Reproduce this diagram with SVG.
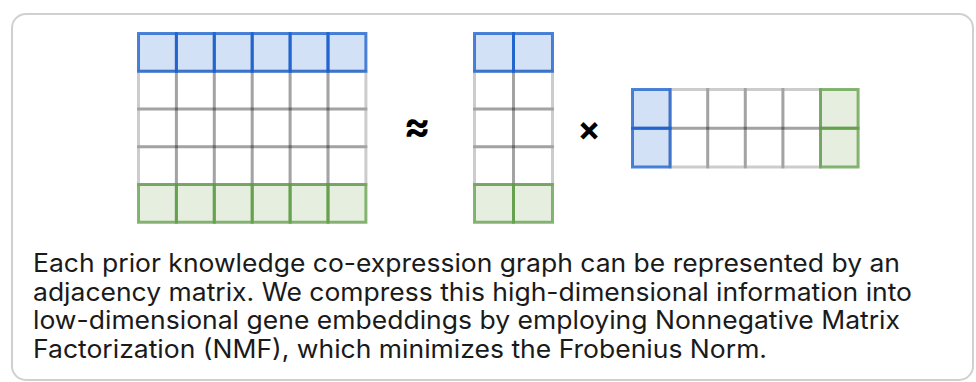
<svg xmlns="http://www.w3.org/2000/svg" width="976" height="382" viewBox="0 0 976 382">
<style>
.frame{fill:#fff;stroke:#d0d0d0;stroke-width:2}
.fb{fill:#d3e1f6}
.fg{fill:#e6eedf}
.cx{fill:none;stroke:#000;stroke-opacity:0.2;stroke-width:3}
.cb{fill:none;stroke:#1a5fcc;stroke-opacity:0.78;stroke-width:3}
.cg{fill:none;stroke:#5e9c45;stroke-opacity:0.75;stroke-width:3}
.op{font-family:Inter,"Noto Sans",sans-serif;font-weight:700;fill:#000;text-anchor:middle}
.cap{font-family:Inter,"Noto Sans",sans-serif;font-size:25px;fill:#1a1a1a}
</style>
<rect class="frame" x="12" y="14" width="961" height="366" rx="14"/>

<g id="matrix-A">
  <rect class="fb" x="138.5" y="33.5" width="227.4" height="37.75"/>
  <rect class="fg" x="138.5" y="184.5" width="227.4" height="37.75"/>
  <rect class="cx" x="138.5" y="71.25" width="37.9" height="37.75"/><rect class="cx" x="176.4" y="71.25" width="37.9" height="37.75"/><rect class="cx" x="214.3" y="71.25" width="37.9" height="37.75"/><rect class="cx" x="252.2" y="71.25" width="37.9" height="37.75"/><rect class="cx" x="290.1" y="71.25" width="37.9" height="37.75"/><rect class="cx" x="328" y="71.25" width="37.9" height="37.75"/>
  <rect class="cx" x="138.5" y="109" width="37.9" height="37.75"/><rect class="cx" x="176.4" y="109" width="37.9" height="37.75"/><rect class="cx" x="214.3" y="109" width="37.9" height="37.75"/><rect class="cx" x="252.2" y="109" width="37.9" height="37.75"/><rect class="cx" x="290.1" y="109" width="37.9" height="37.75"/><rect class="cx" x="328" y="109" width="37.9" height="37.75"/>
  <rect class="cx" x="138.5" y="146.75" width="37.9" height="37.75"/><rect class="cx" x="176.4" y="146.75" width="37.9" height="37.75"/><rect class="cx" x="214.3" y="146.75" width="37.9" height="37.75"/><rect class="cx" x="252.2" y="146.75" width="37.9" height="37.75"/><rect class="cx" x="290.1" y="146.75" width="37.9" height="37.75"/><rect class="cx" x="328" y="146.75" width="37.9" height="37.75"/>
  <rect class="cb" x="138.5" y="33.5" width="37.9" height="37.75"/><rect class="cb" x="176.4" y="33.5" width="37.9" height="37.75"/><rect class="cb" x="214.3" y="33.5" width="37.9" height="37.75"/><rect class="cb" x="252.2" y="33.5" width="37.9" height="37.75"/><rect class="cb" x="290.1" y="33.5" width="37.9" height="37.75"/><rect class="cb" x="328" y="33.5" width="37.9" height="37.75"/>
  <rect class="cg" x="138.5" y="184.5" width="37.9" height="37.75"/><rect class="cg" x="176.4" y="184.5" width="37.9" height="37.75"/><rect class="cg" x="214.3" y="184.5" width="37.9" height="37.75"/><rect class="cg" x="252.2" y="184.5" width="37.9" height="37.75"/><rect class="cg" x="290.1" y="184.5" width="37.9" height="37.75"/><rect class="cg" x="328" y="184.5" width="37.9" height="37.75"/>
</g>

<g id="op-approx">
  <text class="op" x="417" y="140" font-size="40">≈</text>
</g>

<g id="matrix-W">
  <rect class="fb" x="474.5" y="33.5" width="78" height="37.75"/>
  <rect class="fg" x="474.5" y="184.5" width="78" height="37.75"/>
  <rect class="cx" x="474.5" y="71.25" width="39" height="37.75"/><rect class="cx" x="513.5" y="71.25" width="39" height="37.75"/>
  <rect class="cx" x="474.5" y="109" width="39" height="37.75"/><rect class="cx" x="513.5" y="109" width="39" height="37.75"/>
  <rect class="cx" x="474.5" y="146.75" width="39" height="37.75"/><rect class="cx" x="513.5" y="146.75" width="39" height="37.75"/>
  <rect class="cb" x="474.5" y="33.5" width="39" height="37.75"/><rect class="cb" x="513.5" y="33.5" width="39" height="37.75"/>
  <rect class="cg" x="474.5" y="184.5" width="39" height="37.75"/><rect class="cg" x="513.5" y="184.5" width="39" height="37.75"/>
</g>

<g id="op-times">
  <text class="op" x="589" y="141" font-size="34">×</text>
</g>

<g id="matrix-H">
  <rect class="fb" x="632.5" y="89.5" width="37.6" height="77.5"/>
  <rect class="fg" x="820.5" y="89.5" width="37.6" height="77.5"/>
  <rect class="cx" x="670.1" y="89.5" width="37.6" height="38.75"/><rect class="cx" x="707.7" y="89.5" width="37.6" height="38.75"/><rect class="cx" x="745.3" y="89.5" width="37.6" height="38.75"/><rect class="cx" x="782.9" y="89.5" width="37.6" height="38.75"/>
  <rect class="cx" x="670.1" y="128.25" width="37.6" height="38.75"/><rect class="cx" x="707.7" y="128.25" width="37.6" height="38.75"/><rect class="cx" x="745.3" y="128.25" width="37.6" height="38.75"/><rect class="cx" x="782.9" y="128.25" width="37.6" height="38.75"/>
  <rect class="cb" x="632.5" y="89.5" width="37.6" height="38.75"/><rect class="cb" x="632.5" y="128.25" width="37.6" height="38.75"/>
  <rect class="cg" x="820.5" y="89.5" width="37.6" height="38.75"/><rect class="cg" x="820.5" y="128.25" width="37.6" height="38.75"/>
</g>

<g id="caption">
  <text class="cap" x="33" y="272" textLength="867" lengthAdjust="spacingAndGlyphs">Each prior knowledge co-expression graph can be represented by an</text>
  <text class="cap" x="33" y="300.5" textLength="879" lengthAdjust="spacingAndGlyphs">adjacency matrix. We compress this high-dimensional information into</text>
  <text class="cap" x="33" y="329" textLength="867" lengthAdjust="spacingAndGlyphs">low-dimensional gene embeddings by employing Nonnegative Matrix</text>
  <text class="cap" x="33" y="357.5" textLength="734" lengthAdjust="spacingAndGlyphs">Factorization (NMF), which minimizes the Frobenius Norm.</text>
</g>

<g id="connectors"/>
</svg>
